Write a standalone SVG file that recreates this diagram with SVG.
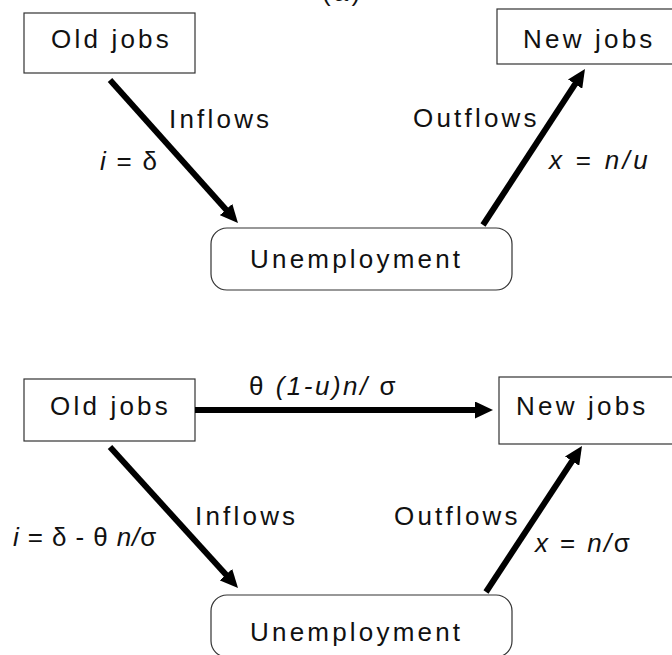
<svg xmlns="http://www.w3.org/2000/svg" width="672" height="655" viewBox="0 0 672 655">
<style>
.box{fill:#fff;stroke:#333;stroke-width:1.2}
.t{font-family:"Liberation Sans",Arial,sans-serif;font-size:26px;fill:#111;letter-spacing:3.2px}
.m{font-family:"Liberation Sans",Arial,sans-serif;font-size:26px;fill:#111;letter-spacing:2px}
.i{font-style:italic}
.c{fill:none;stroke:#000;stroke-width:6;marker-end:url(#ah)}
</style>
<defs>
<marker id="ah" markerUnits="userSpaceOnUse" markerWidth="18" markerHeight="17" refX="8" refY="8.5" orient="auto">
<path d="M0,0 L18,8.5 L0,17 z" fill="#000"/>
</marker>
</defs>
<rect width="672" height="655" fill="#fff"/>
<text class="t" x="322" y="0.5" fill="#666">(a)</text>

<g id="old-jobs-a"><rect class="box" x="24" y="13" width="171" height="60"/><text class="t" x="51" y="48">Old jobs</text></g>
<g id="new-jobs-a"><rect class="box" x="497" y="9" width="180" height="55"/><text class="t" x="523" y="48">New jobs</text></g>
<g id="unemployment-a"><rect class="box" x="211" y="228" width="301" height="62" rx="16"/><text class="t" x="250" y="268">Unemployment</text></g>

<g id="old-jobs-b"><rect class="box" x="24" y="379" width="171" height="62"/><text class="t" x="50" y="415">Old jobs</text></g>
<g id="new-jobs-b"><rect class="box" x="499" y="377" width="180" height="67"/><text class="t" x="516" y="415">New jobs</text></g>
<g id="unemployment-b"><rect class="box" x="211" y="595" width="301" height="62" rx="16"/><text class="t" x="250" y="641">Unemployment</text></g>

<g id="connectors">
<line class="c" x1="110" y1="80" x2="231.3" y2="215.5"/>
<line class="c" x1="483" y1="225" x2="579.5" y2="77.4"/>
<line class="c" x1="195" y1="410" x2="483" y2="410"/>
<line class="c" x1="110" y1="447" x2="231.3" y2="580.6"/>
<line class="c" x1="486" y1="592" x2="576.5" y2="454.4"/>
</g>

<g id="labels">
<text class="t" x="169" y="128">Inflows</text>
<text class="m" x="100" y="170" style="letter-spacing:1.8px"><tspan class="i">i</tspan> = δ</text>
<text class="t" x="413" y="127">Outflows</text>
<text class="m" x="549" y="169" style="letter-spacing:3.3px"><tspan class="i">x</tspan> = <tspan class="i">n/u</tspan></text>

<text class="m" x="249" y="395" style="letter-spacing:2.5px">θ <tspan class="i">(1-u)n/</tspan> σ</text>
<text class="t" x="195" y="525">Inflows</text>
<text class="t" x="394" y="525">Outflows</text>
<text class="m" x="13" y="546" style="letter-spacing:0.9px"><tspan class="i">i</tspan> = δ - θ <tspan class="i">n/</tspan>σ</text>
<text class="m" x="535" y="552" style="letter-spacing:2.4px"><tspan class="i">x</tspan> = <tspan class="i">n/</tspan>σ</text>
</g>
</svg>
